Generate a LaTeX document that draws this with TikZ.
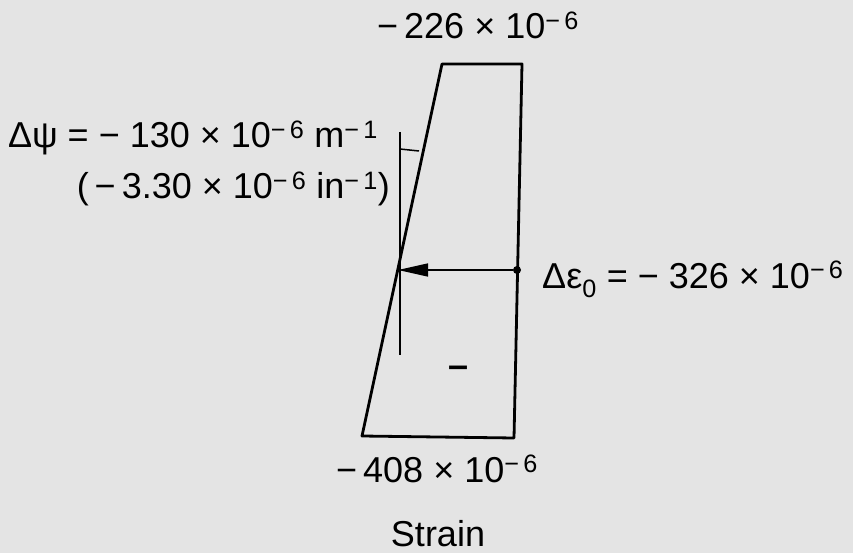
\documentclass[tikz,border=0pt]{standalone}
\usepackage{fontspec}
\setmainfont{Liberation Sans}
\usetikzlibrary{arrows.meta}
\definecolor{scangray}{RGB}{228,228,228}

\begin{document}
\begin{tikzpicture}[x=1pt,y=-1pt,
  every node/.style={font=\fontsize{36}{42}\selectfont,inner sep=0pt},
  strainedge/.style={line width=2.8pt,line join=round},
  thinline/.style={line width=1.5pt}]
  \fill[scangray] (0,0) rectangle (853,553);
  \useasboundingbox (0,0) rectangle (853,553);
  \coordinate (tl) at (442,64);
  \coordinate (tr) at (522,64);
  \coordinate (br) at (514,438);
  \coordinate (bl) at (362,436);
  \coordinate (vtop) at (400,132);
  \coordinate (vbot) at (400,355);
  \coordinate (hit) at (398,270);
  \coordinate (ang1) at (400,149);
  \coordinate (ang2) at (419,151);
  \node[circle,fill,inner sep=0pt,minimum size=8pt] (dot) at (517,270) {};
  \draw[strainedge] (tl) -- (tr) -- (br) -- (bl) -- cycle;
  \draw[thinline] (vtop) -- (vbot);
  \draw[thinline] (ang1) -- (ang2);
  \draw[thinline,-{Triangle[length=30pt,width=13pt]}] (dot) -- (hit);
  \node[anchor=base] (top) at (478,39) {−\,226 × 10\textsuperscript{−\,6}};
  \node[anchor=base east] (psi) at (378,148) {Δψ = − 130 × 10\textsuperscript{−\,6} m\textsuperscript{−\,1}};
  \node[anchor=base east] (psiin) at (390,199) {(\,−\,3.30 × 10\textsuperscript{−\,6} in\textsuperscript{−\,1})};
  \node[anchor=base west] (eps) at (542,288) {Δε\textsubscript{0} = − 326 × 10\textsuperscript{−\,6}};
  \node (minus) at (459,372) {\textbf{–}};
  \node[anchor=base] (bot) at (437,482) {−\,408 × 10\textsuperscript{−\,6}};
  \node[anchor=base] (strain) at (438,546) {Strain};
\end{tikzpicture}
\end{document}
